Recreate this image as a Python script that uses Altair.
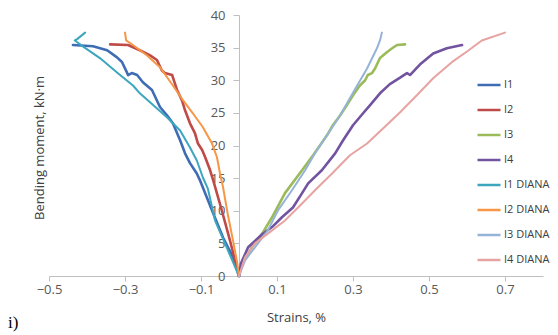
import altair as alt
import pandas as pd

series_names = ["I1", "I2", "I3", "I4", "I1 DIANA", "I2 DIANA", "I3 DIANA", "I4 DIANA"]
series_colors = ["#3E6DB5", "#BE4B48", "#9BBB59", "#7153A0",
                 "#3DA6BF", "#F79646", "#95B3D7", "#E6A3A1"]
series_kind = ["exp", "exp", "exp", "exp", "diana", "diana", "diana", "diana"]

# strains, %
i1_x = [0, -0.016, -0.042, -0.068, -0.103, -0.111, -0.129, -0.142, -0.155, -0.174, -0.189,
        -0.208, -0.229, -0.253, -0.268, -0.282, -0.292, -0.295, -0.308, -0.321, -0.347, -0.384, -0.437]
i1_y = [0, 2.9, 5.9, 9.6, 14.7, 15.7, 17.3, 18.8, 20.8, 23.4, 24.6,
        25.9, 28.5, 29.7, 30.8, 31.1, 30.8, 31.2, 32.8, 33.5, 34.6, 35.2, 35.4]

i2_x = [0, -0.024, -0.045, -0.068, -0.076, -0.089, -0.097, -0.108, -0.116, -0.129, -0.142,
        -0.150, -0.163, -0.176, -0.195, -0.203, -0.216, -0.234, -0.261, -0.292, -0.339]
i2_y = [0, 5.5, 10.0, 14.7, 16.2, 18.2, 19.3, 20.3, 21.9, 23.4, 25.4,
        26.9, 28.5, 30.8, 31.1, 31.5, 33.1, 33.8, 34.6, 35.4, 35.5]

i3_x = [0, 0.008, 0.034, 0.061, 0.087, 0.121, 0.166, 0.195, 0.213, 0.232, 0.247, 0.266,
        0.284, 0.300, 0.318, 0.332, 0.339, 0.350, 0.358, 0.371, 0.389, 0.403, 0.416, 0.437]
i3_y = [0, 1.9, 4.4, 6.5, 9.0, 12.7, 16.2, 18.5, 20.0, 21.6, 23.1, 24.6,
        26.2, 27.7, 29.2, 30.0, 30.8, 31.1, 31.8, 33.4, 34.3, 34.9, 35.4, 35.5]

i4_x = [0, 0.005, 0.024, 0.061, 0.087, 0.113, 0.142, 0.166, 0.182, 0.218, 0.253, 0.274,
        0.300, 0.326, 0.345, 0.371, 0.397, 0.424, 0.442, 0.450, 0.476, 0.511, 0.547, 0.587]
i4_y = [0, 1.9, 4.4, 6.4, 7.5, 9.0, 10.5, 12.7, 14.2, 16.2, 18.8, 20.8,
        23.1, 24.9, 26.2, 28.0, 29.4, 30.4, 31.1, 30.8, 32.4, 34.1, 34.9, 35.4]

i1d_x = [0, -0.037, -0.063, -0.082, -0.095, -0.111, -0.129, -0.155, -0.189, -0.226,
         -0.261, -0.279, -0.321, -0.366, -0.411, -0.432, -0.426, -0.405]
i1d_y = [0, 5.0, 8.5, 13.4, 15.1, 17.7, 19.7, 22.3, 24.3, 26.2,
         28.0, 29.2, 31.2, 33.4, 35.2, 36.1, 36.3, 37.3]

i2d_x = [0, -0.005, -0.016, -0.029, -0.042, -0.050, -0.058, -0.071, -0.095, -0.121,
         -0.147, -0.174, -0.208, -0.242, -0.279, -0.297, -0.300]
i2d_y = [0, 2.1, 5.5, 9.3, 13.6, 15.7, 18.2, 20.3, 22.8, 24.9,
         26.9, 29.2, 32.0, 33.8, 35.4, 36.1, 37.3]

i3d_x = [0, 0.016, 0.042, 0.076, 0.103, 0.139, 0.174, 0.205, 0.232, 0.266,
         0.300, 0.337, 0.363, 0.371, 0.376]
i3d_y = [0, 2.4, 4.4, 7.0, 10.1, 13.1, 16.2, 19.3, 21.6, 24.6,
         28.1, 31.8, 34.9, 36.1, 37.3]

i4d_x = [0, 0.016, 0.042, 0.076, 0.121, 0.166, 0.208, 0.245, 0.292, 0.337, 0.379,
         0.424, 0.468, 0.511, 0.563, 0.600, 0.639, 0.700]
i4d_y = [0, 2.9, 5.0, 6.5, 8.5, 11.1, 13.6, 15.7, 18.5, 20.3, 22.6,
         25.1, 27.7, 30.3, 32.9, 34.4, 36.1, 37.3]

x_ticks = [-0.5, -0.3, -0.1, 0.1, 0.3, 0.5, 0.7]
y_ticks = [0, 5, 10, 15, 20, 25, 30, 35, 40]
panel_label = ["i)"]

all_x = [i1_x, i2_x, i3_x, i4_x, i1d_x, i2d_x, i3d_x, i4d_x]
all_y = [i1_y, i2_y, i3_y, i4_y, i1d_y, i2d_y, i3d_y, i4d_y]

rows = []
for name, kind, xs, ys in zip(series_names, series_kind, all_x, all_y):
    for k, (a, b) in enumerate(zip(xs, ys)):
        rows.append({"series": name, "kind": kind, "strain": a, "moment": b, "k": k})
df = pd.DataFrame(rows)

W, H = 494, 261
x_min, x_max = -0.5, 0.8
zero_px = W * (0 - x_min) / (x_max - x_min)

FONT = "Open Sans"
LABEL_COLOR = "#595959"
AXIS_COLOR = "#BFBFBF"

lines = alt.Chart(df).mark_line(strokeJoin="round", strokeCap="round").encode(
    x=alt.X("strain:Q",
            scale=alt.Scale(domain=[x_min, x_max], nice=False, zero=False),
            axis=alt.Axis(values=x_ticks, format=".1f", title="Strains, %", grid=False,
                          labelFlush=False, labelOverlap=False,
                          tickSize=5, labelPadding=2, titleY=35, titleBaseline="top")),
    y=alt.Y("moment:Q",
            scale=alt.Scale(domain=[0, 40], nice=False),
            axis=alt.Axis(values=y_ticks, offset=-zero_px, title="Bending moment, kN·m",
                          grid=False, tickSize=6, labelPadding=8, labelFlush=False,
                          titleX=-(zero_px + 3), titleY=H / 2 + 2, titleAngle=-90,
                          titleBaseline="bottom", titleAlign="center")),
    color=alt.Color("series:N",
                    scale=alt.Scale(domain=series_names, range=series_colors),
                    legend=alt.Legend(title=None, orient="none", legendX=427, legendY=57,
                                      symbolType="stroke", symbolSize=529, symbolStrokeWidth=2.5,
                                      rowPadding=7, labelOffset=2, labelFontSize=11,
                                      labelFont=FONT, labelColor="#404040", padding=0)),
    strokeWidth=alt.StrokeWidth("kind:N",
                                scale=alt.Scale(domain=["exp", "diana"], range=[2.6, 2.0]),
                                legend=None),
    order="k:Q",
)

label = alt.Chart(pd.DataFrame({"t": panel_label})).mark_text(
    font="Liberation Serif", fontSize=17, align="left", baseline="alphabetic", color="#000000"
).encode(text="t:N", x=alt.value(-41), y=alt.value(313))

chart = alt.layer(lines, label).properties(
    width=W, height=H,
    autosize=alt.AutoSizeParams(type="none"),
    padding={"left": 49, "top": 15, "right": 15, "bottom": 59},
).configure_view(stroke=None).configure_axis(
    domainColor=AXIS_COLOR, tickColor=AXIS_COLOR, labelColor=LABEL_COLOR, titleColor="#404040",
    labelFont=FONT, titleFont=FONT, labelFontSize=13, titleFontSize=13, titleFontWeight="normal",
    domainWidth=1, tickWidth=1,
)

chart.save("out.html", embed_options={"renderer": "svg", "actions": False})
